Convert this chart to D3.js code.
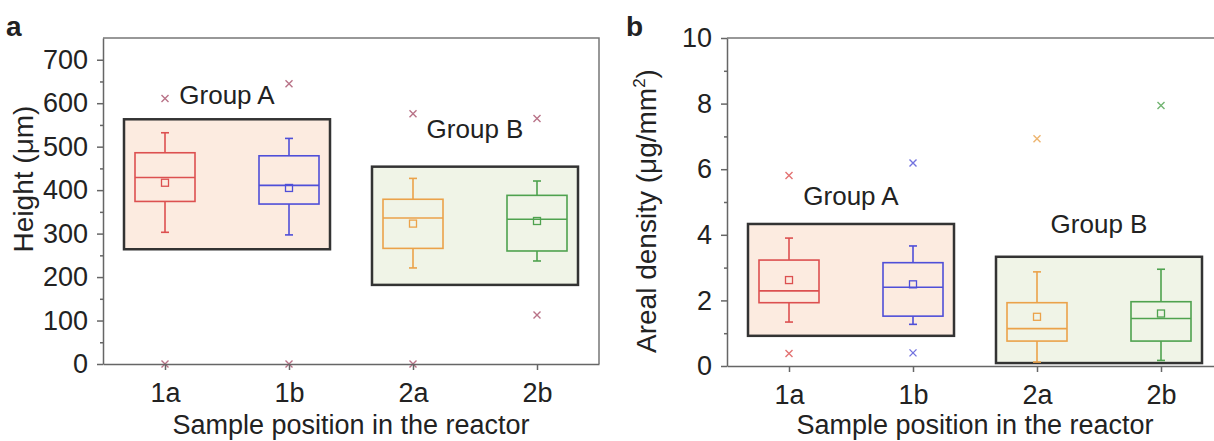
<!DOCTYPE html>
<html>
<head>
<meta charset="utf-8">
<script src="https://cdn.jsdelivr.net/npm/d3@7"></script>
<style>
  body { margin: 0; background: #fff; }
  svg text { font-family: "Liberation Sans", Arial, sans-serif; fill: #222; }
</style>
</head>
<body>
<svg id="chart" width="1214" height="441"></svg>
<script>
var positions = ['1a', '1b', '2a', '2b'];
var colors = ['#dc5050', '#4f4fd8', '#eba24a', '#4fa24f'];

// panel a - height (um)
var heightLow = [303, 297, 221, 237];
var heightQ1 = [374, 368, 266, 260];
var heightMedian = [429, 411, 336, 333];
var heightQ3 = [486, 479, 379, 388];
var heightHigh = [532, 519, 427, 421];
var heightMean = [417, 405, 323, 329];
var heightOutliers = [[611, 0], [645, 0], [576, 0], [565, 113]];
var heightTicks = [0, 100, 200, 300, 400, 500, 600, 700];

// panel b - areal density (ug/mm2)
var densityLow = [1.34, 1.27, 0.12, 0.17];
var densityQ1 = [1.93, 1.52, 0.76, 0.76];
var densityMedian = [2.29, 2.40, 1.14, 1.45];
var densityQ3 = [3.23, 3.15, 1.93, 1.96];
var densityHigh = [3.90, 3.66, 2.87, 2.95];
var densityMean = [2.62, 2.49, 1.50, 1.60];
var densityOutliers = [[5.81, 0.38], [6.19, 0.40], [6.93], [7.94]];
var densityTicks = [0, 2, 4, 6, 8, 10];

// group boxes: members, value range of the shaded box, label value
var heightGroups = [
  { name: 'Group A', members: ['1a', '1b'], range: [264, 563], label: 598 },
  { name: 'Group B', members: ['2a', '2b'], range: [182, 454], label: 520 },
];
var densityGroups = [
  { name: 'Group A', members: ['1a', '1b'], range: [0.92, 4.33], label: 4.91 },
  { name: 'Group B', members: ['2a', '2b'], range: [0.09, 3.33], label: 4.06 },
];
var groupFill = { 'Group A': '#fcebe0', 'Group B': '#f0f4e7' };

function drawPanel(svg, cfg) {
  var x = d3.scalePoint().domain(positions).range([cfg.left, cfg.left + 496]).padding(0.5);
  var y = d3.scaleLinear().domain(cfg.domain).range([cfg.bottom, 38]);
  var g = svg.append('g');

  // frame (top + right)
  g.append('path')
    .attr('d', 'M' + cfg.left + ',38H' + (cfg.left + 496) + 'V' + cfg.bottom)
    .attr('fill', 'none').attr('stroke', '#777').attr('stroke-width', 1.5);

  // group boxes
  cfg.groups.forEach(function (grp) {
    var x0 = x(grp.members[0]) - 41, x1 = x(grp.members[1]) + 41;
    g.append('rect')
      .attr('x', x0).attr('y', y(grp.range[1]))
      .attr('width', x1 - x0).attr('height', y(grp.range[0]) - y(grp.range[1]))
      .attr('fill', groupFill[grp.name]).attr('stroke', '#333').attr('stroke-width', 2.5);
    g.append('text')
      .attr('x', (x(grp.members[0]) + x(grp.members[1])) / 2)
      .attr('y', y(grp.label))
      .attr('text-anchor', 'middle').style('font-size', '26px')
      .text(grp.name);
  });

  var bw = 60;
  positions.forEach(function (p, i) {
    var cx = x(p), c = colors[i];
    var bg = g.append('g').attr('stroke', c).attr('stroke-width', 1.6).attr('fill', 'none');
    // whiskers
    bg.append('line').attr('x1', cx).attr('x2', cx).attr('y1', y(cfg.high[i])).attr('y2', y(cfg.q3[i]));
    bg.append('line').attr('x1', cx).attr('x2', cx).attr('y1', y(cfg.q1[i])).attr('y2', y(cfg.low[i]));
    bg.append('line').attr('x1', cx - 4).attr('x2', cx + 4).attr('y1', y(cfg.high[i])).attr('y2', y(cfg.high[i]));
    bg.append('line').attr('x1', cx - 4).attr('x2', cx + 4).attr('y1', y(cfg.low[i])).attr('y2', y(cfg.low[i]));
    // box
    bg.append('rect').attr('x', cx - bw / 2).attr('y', y(cfg.q3[i]))
      .attr('width', bw).attr('height', y(cfg.q1[i]) - y(cfg.q3[i]));
    bg.append('line').attr('x1', cx - bw / 2).attr('x2', cx + bw / 2)
      .attr('y1', y(cfg.median[i])).attr('y2', y(cfg.median[i]));
    // mean
    bg.append('rect').attr('x', cx - 3.5).attr('y', y(cfg.mean[i]) - 3.5)
      .attr('width', 7).attr('height', 7).attr('stroke-width', 1.3);
    // outliers
    cfg.outliers[i].forEach(function (v) {
      var oy = y(v), s = 3.5;
      g.append('path')
        .attr('d', 'M' + (cx - s) + ',' + (oy - s) + 'L' + (cx + s) + ',' + (oy + s) +
          'M' + (cx - s) + ',' + (oy + s) + 'L' + (cx + s) + ',' + (oy - s))
        .attr('stroke', cfg.outlierColor || c).attr('stroke-width', 1.4).attr('opacity', 0.8);
    });
  });

  // axes
  var yAxis = g.append('g').attr('transform', 'translate(' + cfg.left + ',0)')
    .call(d3.axisLeft(y).tickValues(cfg.ticks).tickSize(6).tickSizeOuter(0).tickPadding(9));
  g.append('g').attr('transform', 'translate(' + cfg.left + ',0)')
    .call(d3.axisLeft(y).tickValues(cfg.minor).tickSize(3).tickSizeOuter(0).tickFormat(''))
    .select('.domain').remove();
  var xAxis = g.append('g').attr('transform', 'translate(0,' + cfg.bottom + ')')
    .call(d3.axisBottom(x).tickSize(6).tickSizeOuter(0).tickPadding(13));
  g.selectAll('.domain, .tick line').attr('stroke', '#666').attr('stroke-width', 1.5);
  yAxis.selectAll('text').style('font-size', '27px').attr('fill', '#222');
  xAxis.selectAll('text').style('font-size', '27px').attr('fill', '#222');

  g.append('text')
    .attr('x', (x('1a') + x('2b')) / 2).attr('y', 434)
    .attr('text-anchor', 'middle').style('font-size', '27px')
    .text('Sample position in the reactor');

  var yt = g.append('text')
    .attr('transform', 'translate(' + cfg.titleX + ',' + cfg.titleY + ') rotate(-90)')
    .attr('text-anchor', 'middle').style('font-size', '28px');
  cfg.title(yt);

  g.append('text').attr('x', cfg.letterX).attr('y', 36)
    .style('font-size', '28px').style('font-weight', 'bold').text(cfg.letter);
}

var svg = d3.select('#chart');

drawPanel(svg, {
  left: 103, bottom: 364, domain: [0, 750],
  ticks: heightTicks, minor: [50, 150, 250, 350, 450, 550, 650],
  low: heightLow, q1: heightQ1, median: heightMedian, q3: heightQ3,
  high: heightHigh, mean: heightMean, outliers: heightOutliers,
  groups: heightGroups, outlierColor: '#a8506a',
  titleX: 33, titleY: 179, letter: 'a', letterX: 6,
  title: function (t) { t.text('Height (\u03bcm)'); },
});

drawPanel(svg, {
  left: 727, bottom: 366, domain: [0, 10],
  ticks: densityTicks, minor: [1, 3, 5, 7, 9],
  low: densityLow, q1: densityQ1, median: densityMedian, q3: densityQ3,
  high: densityHigh, mean: densityMean, outliers: densityOutliers,
  groups: densityGroups,
  titleX: 656, titleY: 211, letter: 'b', letterX: 626,
  title: function (t) {
    t.append('tspan').text('Areal density (\u03bcg/mm');
    t.append('tspan').attr('dy', -11).style('font-size', '17px').text('2');
    t.append('tspan').attr('dy', 11).text(')');
  },
});
</script>
</body>
</html>
